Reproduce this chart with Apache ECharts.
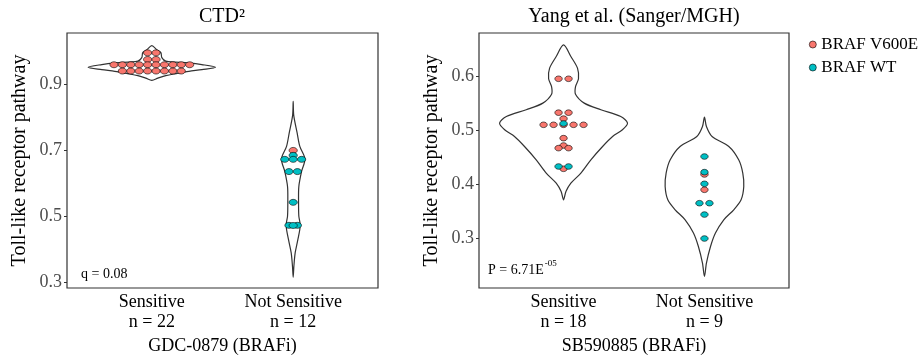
<!DOCTYPE html>
<html><head><meta charset="utf-8">
<script src="https://cdn.jsdelivr.net/npm/echarts@6/dist/echarts.min.js"></script>
<style>html,body{margin:0;padding:0;background:#fff}#c{width:923px;height:362px}</style>
</head><body><div id="c"></div>
<script>
// ---------- data ----------
const groupLabels = ['Sensitive', 'Not Sensitive'];
const ctdCounts = ['n = 22', 'n = 12'];
const yangCounts = ['n = 18', 'n = 9'];
const ctdYTicks = [0.3, 0.5, 0.7, 0.9];
const yangYTicks = [0.3, 0.4, 0.5, 0.6];
const panelTitles = ['CTD\u00B2', 'Yang et al. (Sanger/MGH)'];
const drugNames = ['GDC-0879 (BRAFi)', 'SB590885 (BRAFi)'];
const yName = 'Toll-like receptor pathway';
const legendNames = ['BRAF V600E', 'BRAF WT'];

// dot values (CTD2)
const ctdSensV600E = [0.994, 0.994, 0.974, 0.974,
  0.958, 0.958, 0.958, 0.958, 0.958, 0.958, 0.958, 0.958, 0.958, 0.958,
  0.939, 0.939, 0.939, 0.939, 0.939, 0.939, 0.939, 0.939];
const ctdSensWT = [];
const ctdNotV600E = [0.699];
const ctdNotWT = [0.684, 0.672, 0.672, 0.672, 0.635, 0.635, 0.542, 0.4725, 0.4725, 0.4721];

// dot values (Yang)
const yangSensV600E = [0.5945, 0.5945, 0.532, 0.532, 0.521,
  0.5096, 0.5096, 0.5096, 0.5096, 0.5096, 0.485, 0.4714, 0.4666, 0.4666, 0.4284];
const yangSensWT = [0.512, 0.4327, 0.4327];
const yangNotV600E = [0.418, 0.3897];
const yangNotWT = [0.4511, 0.4223, 0.4007, 0.365, 0.365, 0.344, 0.2998];

// violin outlines: y values (top->bottom) and half widths (x units)
const ctdSensViolinY = [1.0158, 1.0037, 0.9946, 0.9795, 0.9689, 0.9635, 0.9585, 0.9502, 0.9432, 0.9381, 0.9311, 0.9251, 0.9175, 0.9109];
const ctdSensViolinW = [0, 0.035, 0.064, 0.071, 0.099, 0.262, 0.354, 0.451, 0.354, 0.262, 0.170, 0.099, 0.043, 0];
const ctdNotViolinY = [0.847, 0.805, 0.752, 0.711, 0.673, 0.635, 0.590, 0.542, 0.500, 0.472, 0.429, 0.389, 0.349, 0.316];
const ctdNotViolinW = [0, 0.004, 0.028, 0.047, 0.083, 0.059, 0.040, 0.038, 0.040, 0.050, 0.033, 0.014, 0.005, 0];
const yangSensViolinY = [0.657, 0.6356, 0.6142, 0.5945, 0.580, 0.566, 0.5496, 0.5373, 0.5249, 0.5127, 0.5004, 0.488, 0.4696, 0.445, 0.4205, 0.402, 0.3865, 0.3712];
const yangSensViolinW = [0, 0.052, 0.099, 0.106, 0.085, 0.085, 0.147, 0.265, 0.406, 0.454, 0.418, 0.348, 0.277, 0.194, 0.123, 0.052, 0.017, 0];
const yangNotViolinY = [0.5238, 0.5065, 0.488, 0.4696, 0.445, 0.4205, 0.3958, 0.3712, 0.3528, 0.3343, 0.3098, 0.285, 0.2544, 0.2297];
const yangNotViolinW = [0, 0.014, 0.054, 0.173, 0.243, 0.272, 0.279, 0.260, 0.208, 0.137, 0.078, 0.043, 0.014, 0];

const pValueText = ['q = 0.08', 'P = 6.71E', '-05'];

// ---------- style ----------
const RED = '#F8766D', TEAL = '#00BFC4';
const serif = "'Liberation Serif','Times New Roman',serif";

const panels = [
  { dots: [[ctdSensV600E, ctdSensWT], [ctdNotV600E, ctdNotWT]],
    violins: [{y: ctdSensViolinY, w: ctdSensViolinW}, {y: ctdNotViolinY, w: ctdNotViolinW}],
    counts: ctdCounts, ticks: ctdYTicks, min: 0.283, max: 1.054, spacing: 0.0595, rx: 4.1, ry: 3.0,
    grid: {left: 67, right: 545, top: 33, bottom: 74} },
  { dots: [[yangSensV600E, yangSensWT], [yangNotV600E, yangNotWT]],
    violins: [{y: yangSensViolinY, w: yangSensViolinW}, {y: yangNotViolinY, w: yangNotViolinW}],
    counts: yangCounts, ticks: yangYTicks, min: 0.2085, max: 0.679, spacing: 0.0709, rx: 3.7, ry: 2.8,
    grid: {left: 479, right: 134, top: 33, bottom: 74} }
];

function stack(values, center, spacing) {
  const bins = new Map();
  values.forEach(v => { const k = v.toFixed(5); if (!bins.has(k)) bins.set(k, []); bins.get(k).push(v); });
  const out = [];
  bins.forEach(arr => arr.forEach((v, i) => out.push([center + (i - (arr.length - 1) / 2) * spacing, v])));
  return out;
}

const grids = [], xAxes = [], yAxes = [], series = [];
panels.forEach((p, pi) => {
  grids.push(Object.assign({show: true, borderColor: '#333', borderWidth: 1.2, backgroundColor: 'transparent', containLabel: false}, p.grid));
  xAxes.push({
    gridIndex: pi, type: 'value', min: 0.4, max: 2.6,
    splitLine: {show: false}, axisLine: {show: false}, axisTick: {show: false},
    axisLabel: {customValues: [1, 2], formatter: v => groupLabels[Math.round(v) - 1] + '\n' + p.counts[Math.round(v) - 1],
      fontFamily: serif, fontSize: 18, color: '#000', lineHeight: 20, margin: 4},
    name: drugNames[pi], nameLocation: 'middle', nameGap: 46,
    nameTextStyle: {fontFamily: serif, fontSize: 18, color: '#000'}
  });
  yAxes.push({
    gridIndex: pi, type: 'value', min: p.min, max: p.max,
    splitLine: {show: false}, axisLine: {show: false},
    axisTick: {show: true, length: 3, customValues: p.ticks, lineStyle: {color: '#333', width: 1}},
    axisLabel: {customValues: p.ticks, formatter: v => v.toFixed(1), fontFamily: serif, fontSize: 18, color: '#4D4D4D', margin: 5},
    name: yName, nameLocation: 'middle', nameGap: 37, nameRotate: 90,
    nameTextStyle: {fontFamily: serif, fontSize: 20, color: '#000'}
  });
  const violins = p.violins;
  series.push({
    type: 'custom', xAxisIndex: pi, yAxisIndex: pi, silent: true, clip: false,
    data: [[1, violins[0].y[0]], [2, violins[1].y[0]]], encode: {x: 0, y: 1},
    renderItem: (params, api) => {
      const prof = violins[params.dataIndex];
      const cx = params.dataIndex + 1;
      const left = prof.y.map((y, i) => api.coord([cx - prof.w[i], y]));
      const right = prof.y.map((y, i) => api.coord([cx + prof.w[i], y])).reverse();
      const pts = left.concat(right.slice(1, -1));
      return {type: 'polygon', shape: {points: pts, smooth: 0.3}, style: {fill: 'none', stroke: '#333', lineWidth: 1.2}};
    }
  });
  [0, 1].forEach(ci => {
    const color = ci === 0 ? RED : TEAL;
    let data = [];
    p.dots.forEach((grp, gi) => { data = data.concat(stack(grp[ci], gi + 1, p.spacing)); });
    series.push({
      type: 'custom', name: legendNames[ci], xAxisIndex: pi, yAxisIndex: pi, data, encode: {x: 0, y: 1}, z: 3 + ci,
      itemStyle: {color},
      renderItem: (params, api) => {
        const c = api.coord([api.value(0), api.value(1)]);
        return {type: 'ellipse', shape: {cx: c[0], cy: c[1], rx: p.rx, ry: p.ry}, style: {fill: color, stroke: '#000', lineWidth: 0.6}};
      }
    });
  });
});

const chart = echarts.init(document.getElementById('c'));
chart.setOption({
  animation: false,
  backgroundColor: '#fff',
  grid: grids, xAxis: xAxes, yAxis: yAxes, series,
  legend: {
    orient: 'vertical', left: 809, top: 36, padding: 0, itemWidth: 7, itemHeight: 7, itemGap: 6, selectedMode: false,
    textStyle: {fontFamily: serif, fontSize: 17, color: '#000'},
    data: [
      {name: legendNames[0], icon: 'circle', itemStyle: {color: RED, borderColor: '#000', borderWidth: 0.6}},
      {name: legendNames[1], icon: 'circle', itemStyle: {color: TEAL, borderColor: '#000', borderWidth: 0.6}}
    ]
  },
  graphic: [
    {type: 'text', x: 222, y: 17, style: {text: panelTitles[0], font: '20px ' + serif, fill: '#000', align: 'center', verticalAlign: 'middle'}},
    {type: 'text', x: 634, y: 17, style: {text: panelTitles[1], font: '20px ' + serif, fill: '#000', align: 'center', verticalAlign: 'middle'}},
    {type: 'text', x: 81, y: 274, style: {text: pValueText[0], font: '14px ' + serif, fill: '#000', verticalAlign: 'middle'}},
    {type: 'text', x: 488, y: 268, style: {
      text: '{a|' + pValueText[1] + '}{s|' + pValueText[2] + '}',
      verticalAlign: 'middle',
      rich: {a: {fontFamily: serif, fontSize: 14, color: '#000', lineHeight: 18, verticalAlign: 'bottom'},
             s: {fontFamily: serif, fontSize: 9, color: '#000', lineHeight: 18, verticalAlign: 'top', padding: [0, 0, 0, 1]}}
    }}
  ]
});
</script></body></html>
